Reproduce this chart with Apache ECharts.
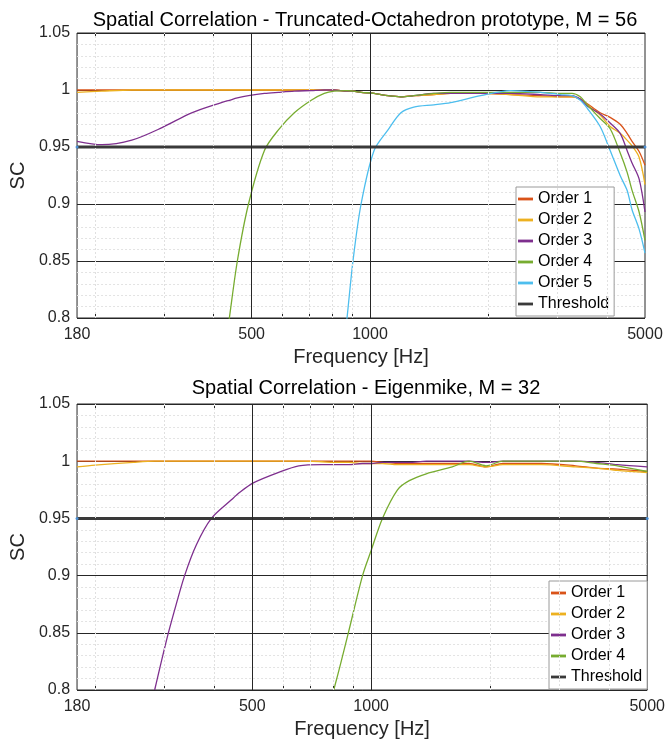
<!DOCTYPE html>
<html>
<head>
<meta charset="utf-8">
<script src="https://cdn.jsdelivr.net/npm/echarts@6/dist/echarts.min.js"></script>
<style>
html,body{margin:0;padding:0;background:#fff;}
#chart{width:668px;height:746px;}
</style>
</head>
<body>
<div id="chart"></div>
<script>
// frequency samples (Hz) and SC values
var freqTop=[180,208,248,296,352,419,439,460,491,539,585,642,709,765,811,874,905,949,1024,1111,1198,1292,1453,1603,1910,2276,2711,3047,3260,3424,3566,3845,4077,4323,4502,4635,4830,5000];
var topOrder1=[1,1,1,1,1,1,1,1,1,1,1,1,1,1,1,0.999,0.999,0.998,0.997,0.995,0.994,0.995,0.996,0.997,0.997,0.996,0.995,0.994,0.994,0.992,0.988,0.980,0.976,0.970,0.962,0.955,0.946,0.934];
var topOrder2=[0.998,0.999,1,1,1,1,1,1,1,1,1,1,1,1,1,0.999,0.999,0.998,0.997,0.995,0.994,0.995,0.996,0.997,0.997,0.996,0.994,0.994,0.994,0.992,0.987,0.978,0.968,0.962,0.956,0.951,0.941,0.917];
var topOrder3=[0.955,0.952,0.956,0.967,0.980,0.989,0.991,0.993,0.995,0.997,0.998,0.999,0.9995,1,1,0.999,0.999,0.998,0.997,0.995,0.994,0.995,0.997,0.997,0.997,0.997,0.996,0.995,0.995,0.992,0.986,0.979,0.971,0.962,0.947,0.936,0.922,0.893];
var topOrder4=[null,null,null,null,null,0.75,0.80,0.85,0.90,0.947,0.965,0.980,0.991,0.997,0.999,0.9995,0.999,0.998,0.997,0.995,0.994,0.995,0.997,0.998,0.998,0.998,0.998,0.997,0.997,0.994,0.987,0.975,0.966,0.945,0.928,0.912,0.893,0.868];
var topOrder5=[null,null,null,null,null,null,null,null,null,null,null,null,null,null,0.70,0.80,0.85,0.90,0.947,0.965,0.980,0.985,0.987,0.989,0.995,0.9995,0.998,0.996,0.995,0.991,0.984,0.968,0.947,0.925,0.912,0.895,0.878,0.857];

var freqBot=[180,200,250,283,303,318,337,361,394,442,466,503,581,656,750,804,837,877,951,1000,1068,1166,1249,1379,1604,1770,1953,2156,2700,3293,3719,4203,5000];
var botOrder1=[1,1,1,1,1,1,1,1,1,1,1,1,1,1,1,1,1,1,1,1,0.999,0.998,0.998,0.998,0.998,0.998,0.995,0.998,0.998,0.996,0.994,0.993,0.991];
var botOrder2=[0.995,0.9965,0.999,1,1,1,1,1,1,1,1,1,1,1,0.9995,0.999,0.999,0.999,0.998,0.998,0.998,0.997,0.997,0.997,0.997,0.997,0.995,0.997,0.997,0.995,0.994,0.992,0.990];
var botOrder3=[null,null,null,0.80,0.843,0.87,0.90,0.927,0.95,0.966,0.973,0.981,0.990,0.996,0.997,0.997,0.997,0.997,0.998,0.998,0.999,0.999,0.999,1,1,1,0.999,1,1,1,0.999,0.997,0.995];
var botOrder4=[null,null,null,null,null,null,null,null,null,null,null,null,null,null,null,0.80,0.823,0.851,0.90,0.922,0.95,0.975,0.983,0.989,0.995,1,0.996,1,1,1,0.998,0.996,0.991];

var threshold=0.95;
var xLabelVals=[180,500,1000,5000];
var xTickVals=[200,300,400,500,600,700,800,900,1000,2000,3000,4000];
var xMinorGrid=[200,300,400,600,700,800,900,2000,3000,4000];
var xMajorGrid=[500,1000];

var colors=['#D95319','#EDB120','#7E2F8E','#77AC30','#4DBEEE'];
var thrColor='#3a3a3a';
var axisColor='#262626';

function zip(xs,ys){
	var out=[];
	for(var i=0;i<xs.length;i++){
		out.push([xs[i],ys[i]]);
	}
	return out;
}

function xAxisPair(gridIndex){
	return [{
		type:'log',gridIndex:gridIndex,min:180,max:5000,position:'bottom',
		name:'Frequency [Hz]',nameLocation:'middle',nameGap:29,
		nameTextStyle:{fontSize:20,color:axisColor,fontFamily:'Liberation Sans'},
		axisLine:{show:false},
		axisTick:{show:true,inside:true,length:5,customValues:xTickVals,lineStyle:{color:axisColor}},
		axisLabel:{customValues:xLabelVals,fontSize:16,color:axisColor,margin:9,fontFamily:'Liberation Sans',
			formatter:function(v){return String(Math.round(v));}},
		splitLine:{show:false}
	},{
		type:'log',gridIndex:gridIndex,min:180,max:5000,position:'top',
		axisLine:{show:false},
		axisTick:{show:true,inside:true,length:5,customValues:xTickVals,lineStyle:{color:axisColor}},
		axisLabel:{show:false},
		splitLine:{show:false}
	}];
}

function yAxisOf(gridIndex){
	return {
		type:'value',gridIndex:gridIndex,min:0.8,max:1.05,interval:0.05,
		name:'SC',nameLocation:'middle',nameGap:43,
		nameTextStyle:{fontSize:20,color:axisColor,fontFamily:'Liberation Sans'},
		axisLine:{show:false},
		axisTick:{show:false},
		minorTick:{show:false,splitNumber:5},
		axisLabel:{fontSize:16,color:axisColor,margin:7,fontFamily:'Liberation Sans'},
		splitLine:{show:true,lineStyle:{color:axisColor,width:1}},
		minorSplitLine:{show:true,lineStyle:{color:'#e3e3e3',type:[2,2],width:1}}
	};
}

function gridLines(xi,yi){
	var d=[];
	xMinorGrid.forEach(function(v){d.push({xAxis:v,lineStyle:{color:'#e0e0e0',type:[2,2],width:1}});});
	xMajorGrid.forEach(function(v){d.push({xAxis:v,lineStyle:{color:axisColor,type:'solid',width:1}});});
	return {
		name:'grid',type:'line',xAxisIndex:xi,yAxisIndex:yi,data:[[180,threshold]],
		symbol:'none',lineStyle:{width:0},silent:true,z:1,
		markLine:{silent:true,symbol:['none','none'],label:{show:false},animation:false,data:d}
	};
}

function orderSeries(name,freq,vals,color,xi,yi){
	return {
		name:name,type:'line',xAxisIndex:xi,yAxisIndex:yi,data:zip(freq,vals),
		smooth:0.3,symbol:'none',clip:true,z:3,
		lineStyle:{width:1.3,color:color},itemStyle:{color:color}
	};
}

function thresholdSeries(xi,yi){
	return {
		name:'Threshold',type:'line',xAxisIndex:xi,yAxisIndex:yi,
		data:[[180,threshold],[5000,threshold]],
		symbol:'circle',symbolSize:3,z:4,
		lineStyle:{width:3,color:thrColor},itemStyle:{color:'#4a8fd4'}
	};
}

function legendOf(names,left,top){
	var data=names.map(function(n,i){
		var c=n==='Threshold'?thrColor:colors[i];
		return {name:n,itemStyle:{color:c,borderWidth:0}};
	});
	return {
		data:data,orient:'vertical',left:left,top:top,
		icon:'path://M0,0L16,0L16,3L0,3Z',itemWidth:15,itemHeight:3,itemGap:3,
		padding:[3,5,3,2],
		itemStyle:{borderWidth:0},
		backgroundColor:'#fff',borderColor:'#9a9a9a',borderWidth:1,borderRadius:0,
		textStyle:{fontSize:16,color:'#000',lineHeight:18,fontFamily:'Liberation Sans'},
		selectedMode:false
	};
}

var chart=echarts.init(document.getElementById('chart'));
var xs=xAxisPair(0).concat(xAxisPair(1));

var option={
	animation:false,
	backgroundColor:'#fff',
	title:[
		{text:'Spatial Correlation - Truncated-Octahedron prototype, M = 56',left:360,top:5,textAlign:'center',
			textStyle:{fontSize:20,fontWeight:'normal',color:'#000',fontFamily:'Liberation Sans'}},
		{text:'Spatial Correlation - Eigenmike, M = 32',left:361,top:373,textAlign:'center',
			textStyle:{fontSize:20,fontWeight:'normal',color:'#000',fontFamily:'Liberation Sans'}}
	],
	grid:[
		{left:75,top:33,width:570,height:285,show:true,borderColor:axisColor,borderWidth:1,backgroundColor:'#fff'},
		{left:75,top:404,width:573,height:286,show:true,borderColor:axisColor,borderWidth:1,backgroundColor:'#fff'}
	],
	xAxis:xs,
	yAxis:[yAxisOf(0),yAxisOf(1)],
	legend:[
		legendOf(['Order 1','Order 2','Order 3','Order 4','Order 5','Threshold'],516,187),
		legendOf(['Order 1','Order 2','Order 3','Order 4','Threshold'],549,581)
	],
	series:[
		gridLines(0,0),
		orderSeries('Order 1',freqTop,topOrder1,colors[0],0,0),
		orderSeries('Order 2',freqTop,topOrder2,colors[1],0,0),
		orderSeries('Order 3',freqTop,topOrder3,colors[2],0,0),
		orderSeries('Order 4',freqTop,topOrder4,colors[3],0,0),
		orderSeries('Order 5',freqTop,topOrder5,colors[4],0,0),
		thresholdSeries(0,0),
		gridLines(2,1),
		orderSeries('Order 1',freqBot,botOrder1,colors[0],2,1),
		orderSeries('Order 2',freqBot,botOrder2,colors[1],2,1),
		orderSeries('Order 3',freqBot,botOrder3,colors[2],2,1),
		orderSeries('Order 4',freqBot,botOrder4,colors[3],2,1),
		thresholdSeries(2,1)
	]
};
chart.setOption(option);
</script>
</body>
</html>
